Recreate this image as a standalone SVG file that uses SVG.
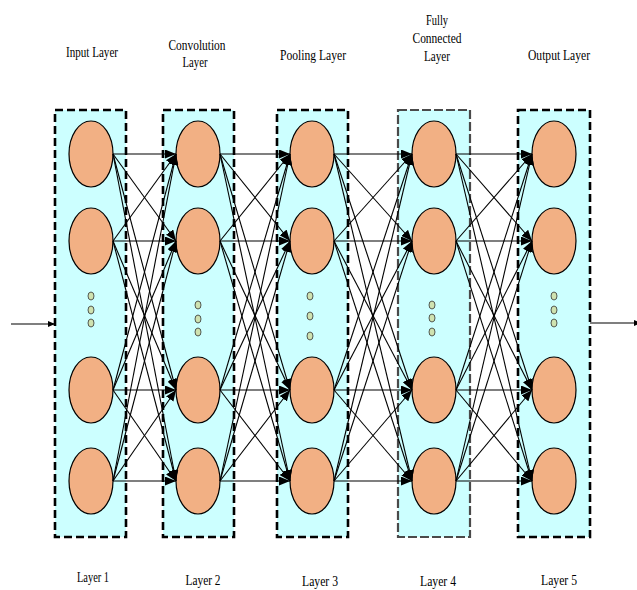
<svg xmlns="http://www.w3.org/2000/svg" width="637" height="590" viewBox="0 0 637 590">
  <defs>
    <marker id="head" markerWidth="12" markerHeight="9" refX="11" refY="4.5" orient="auto" markerUnits="userSpaceOnUse">
      <path d="M0,0 L11,4.5 L0,9 Z" fill="#000"/>
    </marker>
    <marker id="headSmall" markerWidth="8" markerHeight="6" refX="7" refY="3" orient="auto" markerUnits="userSpaceOnUse">
      <path d="M0,0 L7,3 L0,6 Z" fill="#000"/>
    </marker>
  </defs>
  <style>
    .box { fill: #CCFFFF; stroke: #000; stroke-width: 2.6; stroke-dasharray: 8 4; }
    .box.grey { stroke: #4a4a4a; stroke-width: 2.2; stroke-dasharray: 9 3; }
    .node { fill: #F2B084; stroke: #000; stroke-width: 1.2; }
    .dot { fill: #CFE2B0; stroke: #333; stroke-width: 0.8; }
    .link { stroke: #000; stroke-width: 1.1; fill: none; marker-end: url(#head); }
    .io { stroke: #000; stroke-width: 1.1; fill: none; marker-end: url(#headSmall); }
    text { font-family: "Liberation Serif", "Times New Roman", serif; font-size: 14px; fill: #000; text-anchor: middle; }
  </style>
  <rect width="637" height="590" fill="#fff"/>

  <!-- Layer 1 : input -->
  <g id="layer1">
    <rect class="box" x="55" y="110" width="71" height="427"/>
    <ellipse class="node" cx="91" cy="154" rx="22" ry="33"/>
    <ellipse class="node" cx="91" cy="241" rx="22" ry="33"/>
    <ellipse class="node" cx="91" cy="390" rx="22" ry="33"/>
    <ellipse class="node" cx="91" cy="481" rx="22" ry="33"/>
    <ellipse class="dot" cx="91" cy="296" rx="3" ry="4"/>
    <ellipse class="dot" cx="91" cy="310" rx="3" ry="4"/>
    <ellipse class="dot" cx="91" cy="323" rx="3" ry="4"/>
  </g>

  <!-- Layer 2 : convolution -->
  <g id="layer2">
    <rect class="box" x="163" y="110" width="71" height="427"/>
    <ellipse class="node" cx="198" cy="154" rx="22" ry="33"/>
    <ellipse class="node" cx="198" cy="241" rx="22" ry="33"/>
    <ellipse class="node" cx="198" cy="390" rx="22" ry="33"/>
    <ellipse class="node" cx="198" cy="481" rx="22" ry="33"/>
    <ellipse class="dot" cx="198" cy="305" rx="3" ry="4"/>
    <ellipse class="dot" cx="198" cy="319" rx="3" ry="4"/>
    <ellipse class="dot" cx="198" cy="332" rx="3" ry="4"/>
  </g>

  <!-- Layer 3 : pooling -->
  <g id="layer3">
    <rect class="box" x="277" y="110" width="71" height="427"/>
    <ellipse class="node" cx="312" cy="154" rx="22" ry="33"/>
    <ellipse class="node" cx="312" cy="241" rx="22" ry="33"/>
    <ellipse class="node" cx="312" cy="390" rx="22" ry="33"/>
    <ellipse class="node" cx="312" cy="481" rx="22" ry="33"/>
    <ellipse class="dot" cx="310" cy="296" rx="3" ry="4"/>
    <ellipse class="dot" cx="310" cy="316" rx="3" ry="4"/>
    <ellipse class="dot" cx="310" cy="336" rx="3" ry="4"/>
  </g>

  <!-- Layer 4 : fully connected -->
  <g id="layer4">
    <rect class="box grey" x="398" y="110" width="72" height="427"/>
    <ellipse class="node" cx="434" cy="154" rx="22" ry="33"/>
    <ellipse class="node" cx="434" cy="241" rx="22" ry="33"/>
    <ellipse class="node" cx="434" cy="390" rx="22" ry="33"/>
    <ellipse class="node" cx="434" cy="481" rx="22" ry="33"/>
    <ellipse class="dot" cx="432" cy="305" rx="3" ry="4"/>
    <ellipse class="dot" cx="432" cy="318" rx="3" ry="4"/>
    <ellipse class="dot" cx="432" cy="332" rx="3" ry="4"/>
  </g>

  <!-- Layer 5 : output -->
  <g id="layer5">
    <rect class="box" x="518" y="110" width="72" height="427"/>
    <ellipse class="node" cx="554" cy="154" rx="22" ry="33"/>
    <ellipse class="node" cx="554" cy="241" rx="22" ry="33"/>
    <ellipse class="node" cx="554" cy="390" rx="22" ry="33"/>
    <ellipse class="node" cx="554" cy="481" rx="22" ry="33"/>
    <ellipse class="dot" cx="554" cy="296" rx="3" ry="4"/>
    <ellipse class="dot" cx="554" cy="310" rx="3" ry="4"/>
    <ellipse class="dot" cx="554" cy="323" rx="3" ry="4"/>
  </g>

  <!-- Connectors: every node feeds every node of the next layer -->
  <g id="connectors">
    <!-- layer 1 to layer 2 -->
    <path class="link" d="M113,154 L176,154"/>
    <path class="link" d="M113,154 L176,241"/>
    <path class="link" d="M113,154 L176,390"/>
    <path class="link" d="M113,154 L176,481"/>
    <path class="link" d="M113,241 L176,154"/>
    <path class="link" d="M113,241 L176,241"/>
    <path class="link" d="M113,241 L176,390"/>
    <path class="link" d="M113,241 L176,481"/>
    <path class="link" d="M113,390 L176,154"/>
    <path class="link" d="M113,390 L176,241"/>
    <path class="link" d="M113,390 L176,390"/>
    <path class="link" d="M113,390 L176,481"/>
    <path class="link" d="M113,481 L176,154"/>
    <path class="link" d="M113,481 L176,241"/>
    <path class="link" d="M113,481 L176,390"/>
    <path class="link" d="M113,481 L176,481"/>
    <!-- layer 2 to layer 3 -->
    <path class="link" d="M220,154 L290,154"/>
    <path class="link" d="M220,154 L290,241"/>
    <path class="link" d="M220,154 L290,390"/>
    <path class="link" d="M220,154 L290,481"/>
    <path class="link" d="M220,241 L290,154"/>
    <path class="link" d="M220,241 L290,241"/>
    <path class="link" d="M220,241 L290,390"/>
    <path class="link" d="M220,241 L290,481"/>
    <path class="link" d="M220,390 L290,154"/>
    <path class="link" d="M220,390 L290,241"/>
    <path class="link" d="M220,390 L290,390"/>
    <path class="link" d="M220,390 L290,481"/>
    <path class="link" d="M220,481 L290,154"/>
    <path class="link" d="M220,481 L290,241"/>
    <path class="link" d="M220,481 L290,390"/>
    <path class="link" d="M220,481 L290,481"/>
    <!-- layer 3 to layer 4 -->
    <path class="link" d="M334,154 L412,154"/>
    <path class="link" d="M334,154 L412,241"/>
    <path class="link" d="M334,154 L412,390"/>
    <path class="link" d="M334,154 L412,481"/>
    <path class="link" d="M334,241 L412,154"/>
    <path class="link" d="M334,241 L412,241"/>
    <path class="link" d="M334,241 L412,390"/>
    <path class="link" d="M334,241 L412,481"/>
    <path class="link" d="M334,390 L412,154"/>
    <path class="link" d="M334,390 L412,241"/>
    <path class="link" d="M334,390 L412,390"/>
    <path class="link" d="M334,390 L412,481"/>
    <path class="link" d="M334,481 L412,154"/>
    <path class="link" d="M334,481 L412,241"/>
    <path class="link" d="M334,481 L412,390"/>
    <path class="link" d="M334,481 L412,481"/>
    <!-- layer 4 to layer 5 -->
    <path class="link" d="M456,154 L532,154"/>
    <path class="link" d="M456,154 L532,241"/>
    <path class="link" d="M456,154 L532,390"/>
    <path class="link" d="M456,154 L532,481"/>
    <path class="link" d="M456,241 L532,154"/>
    <path class="link" d="M456,241 L532,241"/>
    <path class="link" d="M456,241 L532,390"/>
    <path class="link" d="M456,241 L532,481"/>
    <path class="link" d="M456,390 L532,154"/>
    <path class="link" d="M456,390 L532,241"/>
    <path class="link" d="M456,390 L532,390"/>
    <path class="link" d="M456,390 L532,481"/>
    <path class="link" d="M456,481 L532,154"/>
    <path class="link" d="M456,481 L532,241"/>
    <path class="link" d="M456,481 L532,390"/>
    <path class="link" d="M456,481 L532,481"/>
    <!-- network input and output -->
    <path class="io" d="M11,324 L55,324"/>
    <path class="io" d="M590,323 L641,323"/>
  </g>

  <!-- Layer titles -->
  <g id="titles">
    <text x="92" y="57" textLength="52" lengthAdjust="spacingAndGlyphs">Input Layer</text>
    <text x="197" y="50" textLength="57" lengthAdjust="spacingAndGlyphs">Convolution</text>
    <text x="195" y="67" textLength="25" lengthAdjust="spacingAndGlyphs">Layer</text>
    <text x="313" y="60" textLength="66" lengthAdjust="spacingAndGlyphs">Pooling Layer</text>
    <text x="437" y="25" textLength="22" lengthAdjust="spacingAndGlyphs">Fully</text>
    <text x="437" y="43" textLength="49" lengthAdjust="spacingAndGlyphs">Connected</text>
    <text x="437" y="61" textLength="26" lengthAdjust="spacingAndGlyphs">Layer</text>
    <text x="559" y="60" textLength="62" lengthAdjust="spacingAndGlyphs">Output Layer</text>
  </g>

  <!-- Layer numbers -->
  <g id="numbers">
    <text x="93" y="582" textLength="32" lengthAdjust="spacingAndGlyphs">Layer 1</text>
    <text x="203" y="585" textLength="35" lengthAdjust="spacingAndGlyphs">Layer 2</text>
    <text x="320" y="586" textLength="36" lengthAdjust="spacingAndGlyphs">Layer 3</text>
    <text x="438" y="586" textLength="36" lengthAdjust="spacingAndGlyphs">Layer 4</text>
    <text x="559" y="585" textLength="36" lengthAdjust="spacingAndGlyphs">Layer 5</text>
  </g>
</svg>
